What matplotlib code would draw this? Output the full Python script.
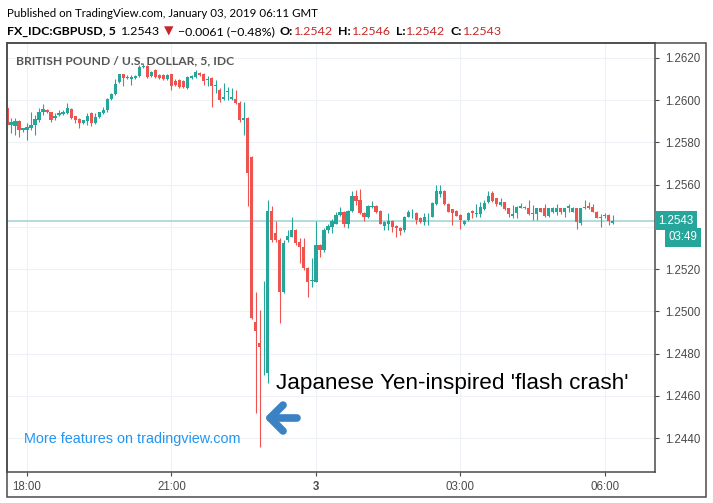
import matplotlib
matplotlib.use("Agg")
import matplotlib.pyplot as plt
import numpy as np
from matplotlib.patches import Rectangle

W, H = 713, 503

# ── Data (5-minute GBPUSD bars) ──────────────────────────────────────────────
start_time = "17:35"

opens = [
    1.25962, 1.25883, 1.25878, 1.25902, 1.25859, 1.25859, 1.25867, 1.25883, 1.25907, 1.25942,
    1.25954, 1.25943, 1.25918, 1.25930, 1.25934, 1.25938, 1.25957, 1.25923, 1.25910, 1.25891,
    1.25902, 1.25938, 1.25891, 1.25919, 1.25938, 1.25954, 1.26005, 1.26028, 1.26084, 1.26123,
    1.26104, 1.26099, 1.26104, 1.26115, 1.26156, 1.26164, 1.26115, 1.26144, 1.26120, 1.26120,
    1.26101, 1.26123, 1.26091, 1.26096, 1.26091, 1.26058, 1.26105, 1.26110, 1.26129, 1.26124,
    1.26096, 1.26105, 1.26067, 1.26048, 1.26006, 1.26041, 1.26006, 1.26006, 1.25987, 1.25906,
    1.25916, 1.25732, 1.24951, 1.24851, 1.24706, 1.24706, 1.25475, 1.25370, 1.25338, 1.25090,
    1.25338, 1.25354, 1.25385, 1.25330, 1.25303, 1.25204, 1.25142, 1.25140, 1.25314, 1.25290,
    1.25385, 1.25401, 1.25416, 1.25456, 1.25472, 1.25416, 1.25476, 1.25546, 1.25527, 1.25467,
    1.25445, 1.25492, 1.25498, 1.25476, 1.25404, 1.25416, 1.25429, 1.25404, 1.25397, 1.25385,
    1.25448, 1.25464, 1.25467, 1.25440, 1.25424, 1.25445, 1.25448, 1.25508, 1.25558, 1.25571,
    1.25508, 1.25483, 1.25475, 1.25457, 1.25412, 1.25433, 1.25475, 1.25460, 1.25460, 1.25483,
    1.25520, 1.25559, 1.25535, 1.25504, 1.25517, 1.25488, 1.25453, 1.25464, 1.25491, 1.25496,
    1.25488, 1.25461, 1.25460, 1.25488, 1.25488, 1.25453, 1.25469, 1.25472, 1.25488, 1.25472,
    1.25488, 1.25472, 1.25488, 1.25417, 1.25488, 1.25501, 1.25496, 1.25472, 1.25444, 1.25453,
    1.25457, 1.25417,
]
highs = [
    1.25965, 1.25915, 1.25915, 1.25907, 1.25870, 1.25891, 1.25946, 1.25930, 1.25965, 1.25983,
    1.25960, 1.25946, 1.25938, 1.25954, 1.25954, 1.25986, 1.25962, 1.25926, 1.25915, 1.25907,
    1.25938, 1.25942, 1.25938, 1.25946, 1.25970, 1.26009, 1.26033, 1.26099, 1.26126, 1.26126,
    1.26118, 1.26120, 1.26120, 1.26167, 1.26175, 1.26167, 1.26140, 1.26148, 1.26126, 1.26126,
    1.26126, 1.26126, 1.26101, 1.26101, 1.26096, 1.26115, 1.26119, 1.26143, 1.26134, 1.26129,
    1.26115, 1.26110, 1.26096, 1.26058, 1.26082, 1.26063, 1.26058, 1.26048, 1.25996, 1.25992,
    1.25921, 1.25735, 1.25093, 1.25006, 1.25145, 1.25527, 1.25500, 1.25428, 1.25345, 1.25338,
    1.25385, 1.25448, 1.25390, 1.25346, 1.25346, 1.25208, 1.25251, 1.25428, 1.25318, 1.25393,
    1.25416, 1.25435, 1.25472, 1.25495, 1.25476, 1.25480, 1.25571, 1.25574, 1.25579, 1.25470,
    1.25503, 1.25524, 1.25506, 1.25480, 1.25427, 1.25464, 1.25432, 1.25408, 1.25401, 1.25453,
    1.25480, 1.25487, 1.25470, 1.25445, 1.25464, 1.25467, 1.25519, 1.25598, 1.25598, 1.25575,
    1.25511, 1.25487, 1.25478, 1.25460, 1.25431, 1.25470, 1.25478, 1.25507, 1.25520, 1.25528,
    1.25570, 1.25570, 1.25538, 1.25535, 1.25520, 1.25491, 1.25504, 1.25499, 1.25512, 1.25499,
    1.25528, 1.25504, 1.25491, 1.25491, 1.25507, 1.25491, 1.25496, 1.25507, 1.25491, 1.25491,
    1.25507, 1.25494, 1.25491, 1.25491, 1.25528, 1.25520, 1.25507, 1.25475, 1.25460, 1.25464,
    1.25460, 1.25457,
]
lows = [
    1.25878, 1.25844, 1.25836, 1.25825, 1.25851, 1.25812, 1.25859, 1.25836, 1.25899, 1.25930,
    1.25940, 1.25899, 1.25904, 1.25925, 1.25930, 1.25934, 1.25910, 1.25891, 1.25867, 1.25886,
    1.25883, 1.25880, 1.25886, 1.25915, 1.25934, 1.25946, 1.26002, 1.26024, 1.26080, 1.26065,
    1.26099, 1.26073, 1.26099, 1.26110, 1.26152, 1.26107, 1.26110, 1.26107, 1.26099, 1.26096,
    1.26096, 1.26049, 1.26067, 1.26058, 1.26058, 1.26053, 1.26101, 1.26105, 1.26115, 1.26072,
    1.26067, 1.25968, 1.26034, 1.25992, 1.26001, 1.26001, 1.26001, 1.25982, 1.25897, 1.25835,
    1.25499, 1.24965, 1.24517, 1.24359, 1.24698, 1.24659, 1.25330, 1.25330, 1.24943, 1.25085,
    1.25330, 1.25350, 1.25314, 1.25227, 1.25196, 1.25066, 1.25117, 1.25138, 1.25255, 1.25282,
    1.25369, 1.25369, 1.25413, 1.25453, 1.25401, 1.25397, 1.25472, 1.25503, 1.25459, 1.25429,
    1.25440, 1.25488, 1.25467, 1.25413, 1.25385, 1.25385, 1.25377, 1.25353, 1.25361, 1.25377,
    1.25445, 1.25440, 1.25416, 1.25419, 1.25408, 1.25408, 1.25445, 1.25505, 1.25540, 1.25503,
    1.25469, 1.25408, 1.25450, 1.25390, 1.25409, 1.25430, 1.25441, 1.25449, 1.25449, 1.25480,
    1.25512, 1.25517, 1.25501, 1.25501, 1.25480, 1.25449, 1.25444, 1.25441, 1.25488, 1.25485,
    1.25457, 1.25433, 1.25433, 1.25469, 1.25449, 1.25449, 1.25466, 1.25457, 1.25460, 1.25449,
    1.25472, 1.25469, 1.25390, 1.25409, 1.25485, 1.25485, 1.25469, 1.25441, 1.25401, 1.25441,
    1.25409, 1.25414,
]
closes = [
    1.25883, 1.25899, 1.25902, 1.25859, 1.25867, 1.25875, 1.25883, 1.25910, 1.25946, 1.25957,
    1.25943, 1.25904, 1.25923, 1.25938, 1.25946, 1.25962, 1.25915, 1.25907, 1.25891, 1.25904,
    1.25926, 1.25891, 1.25919, 1.25942, 1.25954, 1.26005, 1.26028, 1.26076, 1.26123, 1.26104,
    1.26112, 1.26112, 1.26115, 1.26159, 1.26164, 1.26112, 1.26136, 1.26112, 1.26104, 1.26101,
    1.26120, 1.26068, 1.26072, 1.26063, 1.26063, 1.26110, 1.26115, 1.26134, 1.26119, 1.26091,
    1.26101, 1.26067, 1.26072, 1.26001, 1.26015, 1.26044, 1.26015, 1.25987, 1.25906, 1.25916,
    1.25655, 1.24970, 1.24908, 1.24830, 1.24710, 1.25475, 1.25338, 1.25338, 1.25090, 1.25325,
    1.25357, 1.25385, 1.25322, 1.25306, 1.25204, 1.25140, 1.25147, 1.25314, 1.25290, 1.25385,
    1.25404, 1.25427, 1.25456, 1.25472, 1.25416, 1.25476, 1.25546, 1.25524, 1.25464, 1.25445,
    1.25498, 1.25498, 1.25472, 1.25416, 1.25424, 1.25429, 1.25401, 1.25393, 1.25382, 1.25448,
    1.25472, 1.25467, 1.25432, 1.25424, 1.25448, 1.25448, 1.25511, 1.25571, 1.25571, 1.25508,
    1.25472, 1.25464, 1.25453, 1.25433, 1.25428, 1.25464, 1.25464, 1.25468, 1.25496, 1.25512,
    1.25548, 1.25523, 1.25507, 1.25517, 1.25485, 1.25460, 1.25460, 1.25496, 1.25501, 1.25488,
    1.25460, 1.25464, 1.25488, 1.25472, 1.25453, 1.25488, 1.25488, 1.25488, 1.25472, 1.25488,
    1.25501, 1.25491, 1.25425, 1.25488, 1.25496, 1.25488, 1.25472, 1.25444, 1.25449, 1.25457,
    1.25428, 1.25430,
]

tick_times  = ["18:00", "21:00", "00:00", "03:00", "06:00"]
tick_labels = ["18:00", "21:00", "3", "03:00", "06:00"]
price_ticks = [1.2440, 1.2460, 1.2480, 1.2500, 1.2520, 1.2540, 1.2560, 1.2580, 1.2600, 1.2620]

last_price = 1.2543
countdown = "03:49"

# ── Style ────────────────────────────────────────────────────────────────────
UP, DOWN = "#26a69a", "#ef5350"
FRAME = "#4a4a4a"
GRID = "#eef2f7"
TXT = "#4a4a4a"
FONT = ["Liberation Sans", "DejaVu Sans"]
HEAD = ["Lato", "DejaVu Sans"]
plt.rcParams["font.family"] = FONT


def bar_index(hhmm):
    h0, m0 = map(int, start_time.split(":"))
    h, m = map(int, hhmm.split(":"))
    return ((h * 60 + m) - (h0 * 60 + m0)) % 1440 / 5


fig = plt.figure(figsize=(W / 100, H / 100), dpi=100)
ax = fig.add_axes([7 / W, (H - 472) / H, 648 / W, 429 / H])

o = np.array(opens); hi = np.array(highs); lo = np.array(lows); c = np.array(closes)
x = np.arange(len(o))
col = np.where(c >= o, UP, DOWN)

ax.vlines(x, lo, hi, colors=col, linewidth=0.8, zorder=3)
body = np.abs(c - o)
h_body = np.maximum(body, 0.00003)
bottom = np.minimum(o, c) - (h_body - body) / 2
ax.bar(x, h_body, bottom=bottom, width=0.8, color=col, linewidth=0, zorder=3)

ax.set_xlim(0.02, 161.5)
ax.set_ylim(1.24239, 1.26271)

# grid + last price line
for p in price_ticks:
    ax.axhline(p, color=GRID, lw=0.8, zorder=0)
tick_pos = [bar_index(t) for t in tick_times]
for tp in tick_pos:
    ax.axvline(tp, color=GRID, lw=0.8, zorder=0)
ax.axhline(last_price, color="#a6d5d8", lw=1.2, zorder=1)

# axes
ax.yaxis.tick_right()
ax.set_yticks(price_ticks)
ax.set_yticklabels(["" if abs(p - 1.2540) < 1e-9 else f"{p:.4f}" for p in price_ticks])
ax.set_xticks(tick_pos)
ax.set_xticklabels(tick_labels)
ax.tick_params(axis="both", colors=FRAME, labelcolor=TXT, labelsize=8.3, length=3, width=0.8)
ax.tick_params(axis="y", pad=4)
ax.tick_params(axis="x", pad=3.5)
for lab in ax.get_xticklabels():
    if lab.get_text() == "3":
        lab.set_fontweight("bold")
for s in ax.spines.values():
    s.set_color(FRAME)
    s.set_linewidth(1.1)

# outer frame
fig.add_artist(Rectangle((7 / W, (H - 497) / H), 699 / W, 454 / H, transform=fig.transFigure,
                         fill=False, edgecolor=FRAME, linewidth=1.1))

# price + countdown labels on the scale
ax.text(1.005, last_price, f"{last_price:.4f}", transform=ax.get_yaxis_transform(),
        ha="left", va="center", fontsize=8.3, color="white", zorder=5, clip_on=False,
        bbox=dict(boxstyle="square,pad=0.32", fc=UP, ec="none"))
ax.text(1.021, last_price - 0.00079, countdown, transform=ax.get_yaxis_transform(),
        ha="left", va="center", fontsize=8.3, color="white", zorder=5, clip_on=False,
        bbox=dict(boxstyle="square,pad=0.32", fc=UP, ec="none"))

# texts inside the chart
ax.text(0.014, 0.958, "BRITISH POUND / U.S. DOLLAR, 5, IDC", transform=ax.transAxes,
        fontsize=8.7, color="#555555", fontweight="bold", family=HEAD, va="center", ha="left")
ax.text(0.026, 0.078, "More features on tradingview.com", transform=ax.transAxes,
        fontsize=10.4, color="#2196f3", va="center", ha="left")
ax.text(0.415, 0.207, "Japanese Yen-inspired 'flash crash'", transform=ax.transAxes,
        fontsize=16.2, color="black", va="center", ha="left")

# blue arrow pointing at the low
arrow_x = [0.4475, 0.406, 0.426, 0.406, 0.426]
arrow_y = [0.126, 0.126, 0.156, 0.126, 0.0956]
ax.plot(arrow_x[:2], arrow_y[:2], transform=ax.transAxes, color="#3b82c4", lw=5.5,
        solid_capstyle="round", zorder=6)
ax.plot(arrow_x[2:], arrow_y[2:], transform=ax.transAxes, color="#3b82c4", lw=5.5,
        solid_capstyle="round", solid_joinstyle="round", zorder=6)

# header
fig.text(7 / W, 1 - 17 / H, "Published on TradingView.com, January 03, 2019 06:11 GMT",
         fontsize=8.3, color="black", family=HEAD, va="baseline", ha="left")

RED = "#c62828"
pieces = [
    ("FX_IDC:GBPUSD, 5", "bold", "black", 0),
    ("1.2543", "normal", "black", 5),
    ("\u25bc", "normal", RED, 4),
    ("\u22120.0061 (\u22120.48%)", "normal", "black", 4),
    ("O:", "bold", "black", 5),
    ("1.2542", "normal", RED, 1),
    ("H:", "bold", "black", 5),
    ("1.2546", "normal", RED, 1),
    ("L:", "bold", "black", 5),
    ("1.2542", "normal", RED, 1),
    ("C:", "bold", "black", 5),
    ("1.2543", "normal", RED, 1),
]
prev = fig.text(7 / W, 1 - 37 / H, pieces[0][0], fontsize=8.9, fontweight=pieces[0][1],
                color=pieces[0][2], family=HEAD, va="bottom", ha="left")
for txt, wt, cl, gap in pieces[1:]:
    prev = ax.annotate(txt, xy=(1, 0), xycoords=prev, xytext=(gap, 0),
                       textcoords="offset pixels", fontsize=8.9, fontweight=wt,
                       color=cl, family=HEAD, va="bottom", ha="left", annotation_clip=False)

fig.savefig("out.png", dpi=100, facecolor="white")
